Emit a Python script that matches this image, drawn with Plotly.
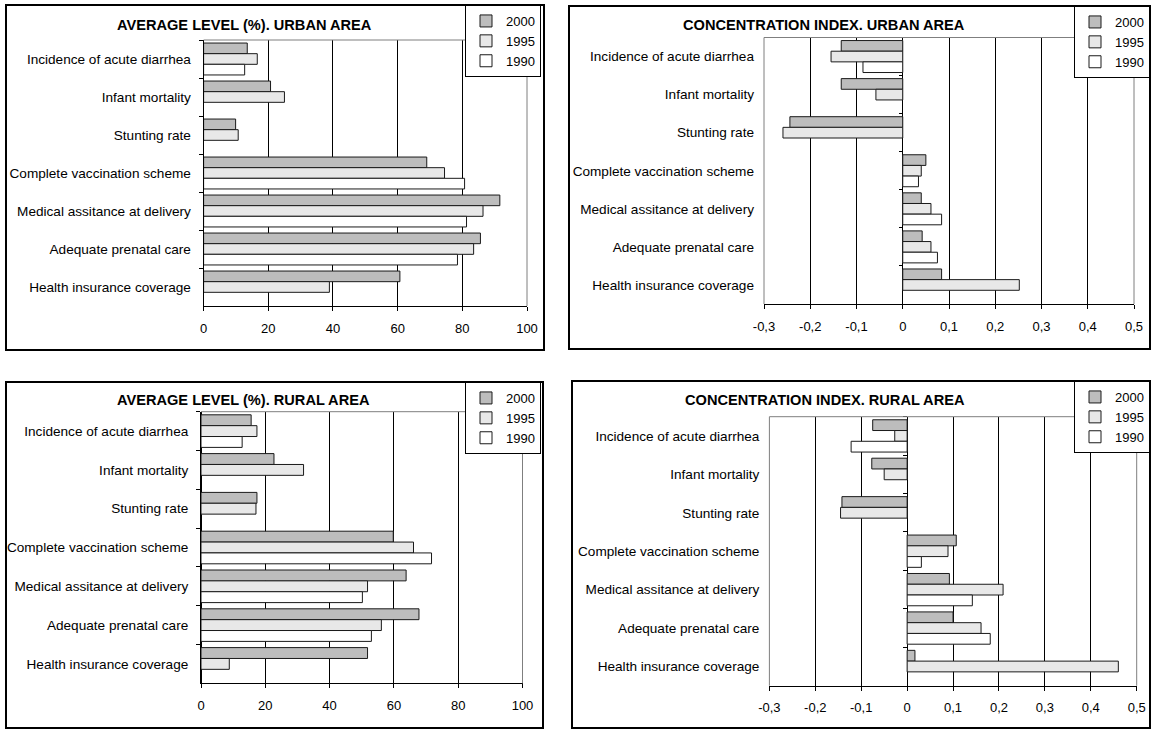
import plotly.graph_objects as go

# ---------------- data ----------------
categories = ["Incidence of acute diarrhea", "Infant mortality", "Stunting rate",
              "Complete vaccination scheme", "Medical assitance at delivery",
              "Adequate prenatal care", "Health insurance coverage"]
years = ["2000", "1995", "1990"]

urban_avg_2000 = [13.5, 20.7, 9.9, 69.0, 91.6, 85.6, 60.7]
urban_avg_1995 = [16.6, 25.0, 10.7, 74.5, 86.4, 83.5, 38.9]
urban_avg_1990 = [12.7, None, None, 80.7, 81.3, 78.5, None]

rural_avg_2000 = [15.6, 22.7, 17.4, 59.8, 63.8, 67.8, 51.8]
rural_avg_1995 = [17.4, 31.9, 17.1, 66.1, 51.8, 56.1, 8.8]
rural_avg_1990 = [12.8, None, None, 71.7, 50.2, 53.0, None]

urban_ci_2000 = [-0.133, -0.133, -0.244, 0.050, 0.040, 0.042, 0.084]
urban_ci_1995 = [-0.155, -0.058, -0.259, 0.040, 0.061, 0.061, 0.252]
urban_ci_1990 = [-0.086, None, None, 0.034, 0.084, 0.075, None]

rural_ci_2000 = [-0.075, -0.077, -0.142, 0.107, 0.092, 0.100, 0.017]
rural_ci_1995 = [-0.027, -0.050, -0.145, 0.089, 0.209, 0.161, 0.460]
rural_ci_1990 = [-0.122, None, None, 0.031, 0.142, 0.181, None]

avg_tickvals = [0, 20, 40, 60, 80, 100]
avg_ticktext = ["0", "20", "40", "60", "80", "100"]
ci_tickvals = [-0.3, -0.2, -0.1, 0, 0.1, 0.2, 0.3, 0.4, 0.5]
ci_ticktext = ["-0,3", "-0,2", "-0,1", "0", "0,1", "0,2", "0,3", "0,4", "0,5"]

titles = ["AVERAGE LEVEL (%). URBAN AREA", "CONCENTRATION INDEX. URBAN AREA",
          "AVERAGE LEVEL (%). RURAL AREA", "CONCENTRATION INDEX. RURAL AREA"]

# ---------------- layout helpers ----------------
W, H = 1151, 730
FONT = "Liberation Sans, Arial, sans-serif"
fills = ["#bdbdbd", "#e8e8e8", "#ffffff"]

def fx(p):
    return p / W

def fy(p):
    return 1 - p / H

panels = [
    dict(data=[urban_avg_2000, urban_avg_1995, urban_avg_1990], kind="avg",
         plot=(203.6, 527, 40, 306), box=(6, 544, 5, 350), leg=(541, 5), title=(244, 25)),
    dict(data=[urban_ci_2000, urban_ci_1995, urban_ci_1990], kind="ci",
         plot=(764, 1134, 37.5, 304), box=(569, 1150, 6, 349), leg=(1150, 6), title=(824, 25)),
    dict(data=[rural_avg_2000, rural_avg_1995, rural_avg_1990], kind="avg",
         plot=(201, 522.5, 411.7, 683.3), box=(6, 543, 382, 728), leg=(541, 382), title=(243, 400)),
    dict(data=[rural_ci_2000, rural_ci_1995, rural_ci_1990], kind="ci",
         plot=(769.4, 1136.7, 416.7, 685.7), box=(572, 1150, 381, 728), leg=(1150, 381), title=(825, 400)),
]

fig = go.Figure()
layout = dict(width=W, height=H, autosize=False,
              margin=dict(l=0, r=0, t=0, b=0, pad=0, autoexpand=False),
              paper_bgcolor="white", plot_bgcolor="white",
              font=dict(family=FONT, size=13, color="black"),
              barmode="group", bargap=0.16, bargroupgap=0.0,
              showlegend=True)
shapes = []
annotations = []

extra_axis = 5
for i, p in enumerate(panels):
    n = i + 1
    sx = "" if n == 1 else str(n)
    xname, yname = "x" + sx, "y" + sx
    legname = "legend" + sx
    x0, x1, y0, y1 = p["plot"]
    xdom = [fx(x0), fx(x1)]
    ydom = [fy(y1), fy(y0)]
    for k, yr in enumerate(years):
        fig.add_trace(go.Bar(
            y=categories, x=p["data"][k], name=yr, orientation="h",
            xaxis=xname, yaxis=yname, legend=legname,
            marker=dict(color=fills[k], line=dict(color="#1a1a1a", width=1)),
        ))
    if p["kind"] == "avg":
        xr = [0, 100]
        tv, tt = avg_tickvals, avg_ticktext
    else:
        xr = [-0.3, 0.5]
        tv, tt = ci_tickvals, ci_ticktext
    layout["xaxis" + sx] = dict(
        domain=xdom, anchor=yname, range=xr, tickvals=tv, ticktext=tt,
        automargin=False,
        showgrid=True, gridcolor="black", gridwidth=1,
        zeroline=True, zerolinecolor="black", zerolinewidth=1,
        showline=True, linecolor="black", linewidth=1,
        ticks="outside", ticklen=4, tickcolor="black",
        ticklabelstandoff=6, tickfont=dict(size=13), fixedrange=True)
    yax = dict(domain=ydom, anchor=xname, type="category", automargin=False,
               categoryorder="array", categoryarray=categories,
               range=[6.5, -0.5], showgrid=False, zeroline=False,
               tickfont=dict(size=13.6), fixedrange=True)
    if p["kind"] == "avg":
        yax.update(showline=True, linecolor="black", linewidth=1,
                   ticks="outside", tickson="boundaries", ticklen=4,
                   tickcolor="black", ticklabelstandoff=9)
    else:
        yax.update(showline=False, ticks="", ticklabelstandoff=9)
        # tick marks on the zero line (category boundaries)
        ename = "yaxis" + str(extra_axis)
        pos = xdom[0] + (0 - xr[0]) / (xr[1] - xr[0]) * (xdom[1] - xdom[0])
        layout[ename] = dict(overlaying=yname, anchor="free", position=pos,
                             type="category", categoryorder="array", automargin=False,
                             categoryarray=categories, range=[6.5, -0.5],
                             showgrid=False, zeroline=False, showline=False,
                             ticks="outside", tickson="boundaries", ticklen=4,
                             tickcolor="black", showticklabels=False,
                             fixedrange=True)
        fig.add_trace(go.Scatter(y=categories, x=p["data"][0], mode="markers",
                                 marker=dict(opacity=0, size=1),
                                 xaxis=xname, yaxis="y" + str(extra_axis),
                                 showlegend=False, hoverinfo="skip"))
        extra_axis += 1
    layout["yaxis" + sx] = yax

    # legend
    lx, ly = p["leg"]
    layout[legname] = dict(x=fx(lx), y=fy(ly), xanchor="right", yanchor="top",
                           bgcolor="white", bordercolor="black", borderwidth=1,
                           font=dict(size=13, family=FONT), traceorder="normal",
                           itemwidth=30, tracegroupgap=0)

    # grey plot-area border (top, right, and left for CI)
    xd, ydref = xname + " domain", yname + " domain"
    grey = dict(color="#7f7f7f", width=1)
    shapes.append(dict(type="line", xref=xd, yref=ydref, x0=0, x1=1, y0=1, y1=1,
                       line=grey, layer="above"))
    shapes.append(dict(type="line", xref=xd, yref=ydref, x0=1, x1=1, y0=0, y1=1,
                       line=grey, layer="above"))
    if p["kind"] == "ci":
        shapes.append(dict(type="line", xref=xd, yref=ydref, x0=0, x1=0, y0=0, y1=1,
                           line=grey, layer="above"))

    # panel frame
    bx0, bx1, by0, by1 = p["box"]
    shapes.append(dict(type="rect", xref="paper", yref="paper",
                       x0=fx(bx0), x1=fx(bx1), y0=fy(by1), y1=fy(by0),
                       line=dict(color="black", width=2), fillcolor="rgba(0,0,0,0)",
                       layer="above"))
    # title
    tx, ty = p["title"]
    annotations.append(dict(xref="paper", yref="paper", x=fx(tx), y=fy(ty),
                            xanchor="center", yanchor="middle", showarrow=False,
                            text="<b>" + titles[i] + "</b>",
                            font=dict(size=14.6, family=FONT, color="black")))

layout["shapes"] = shapes
layout["annotations"] = annotations
fig.update_layout(**layout)
fig.write_html("out.html", config={"displayModeBar": False},
               post_script="document.body.style.margin='0px';document.body.style.overflow='hidden';")
